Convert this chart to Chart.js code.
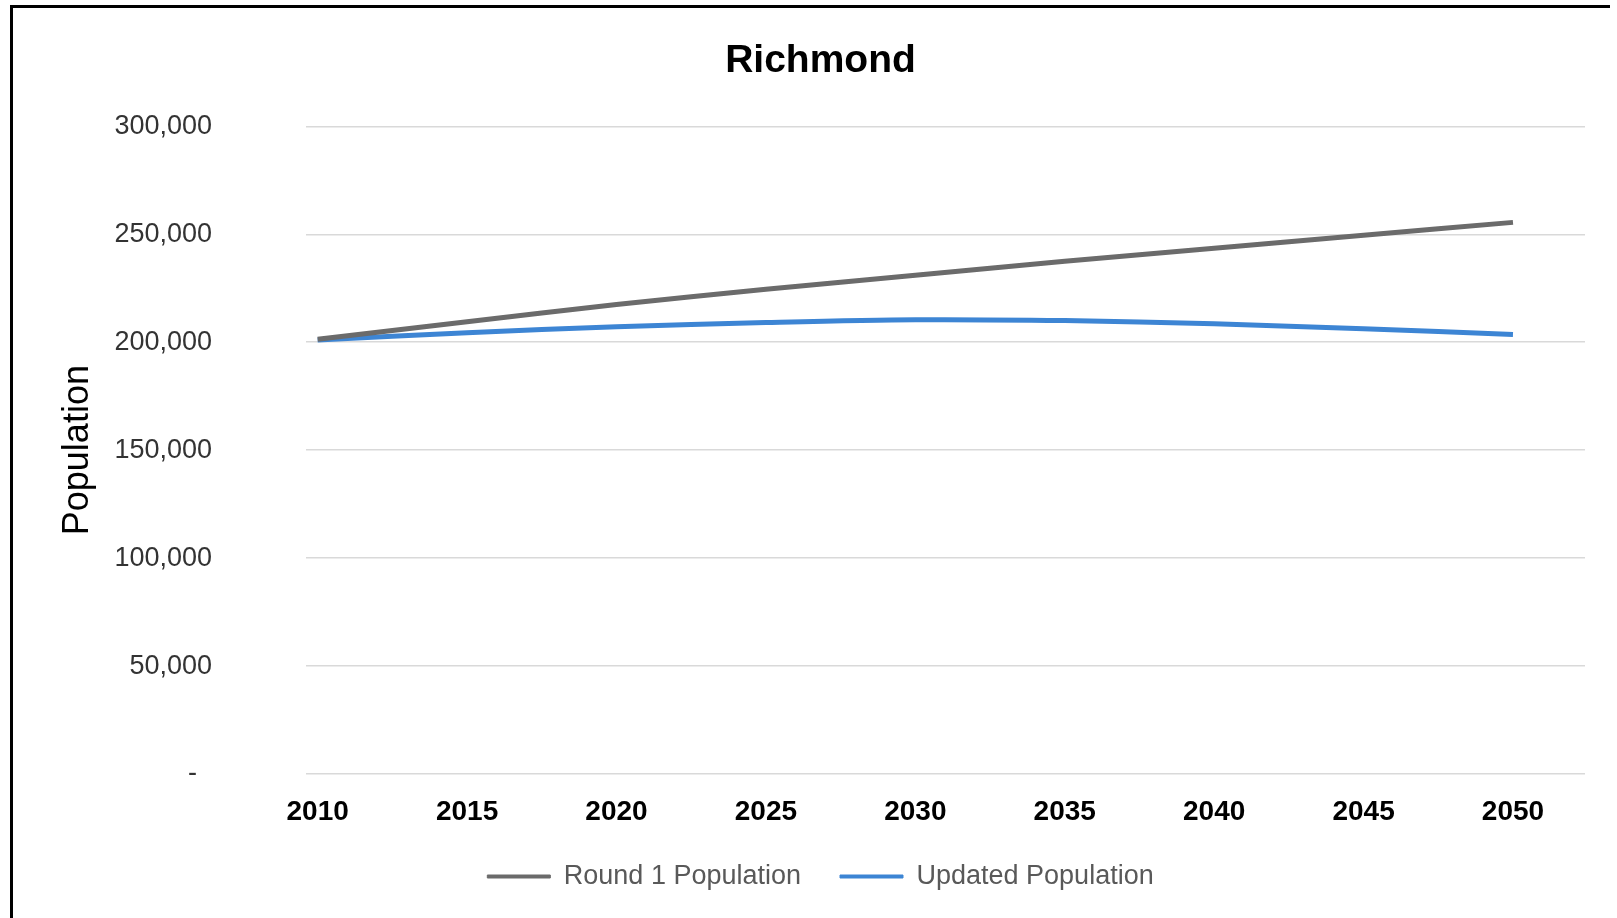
<!DOCTYPE html>
<html>
<head>
<meta charset="utf-8">
<script src="https://cdn.jsdelivr.net/npm/chart.js@4/dist/chart.umd.min.js"></script>
<style>
  html, body { margin: 0; padding: 0; background: #ffffff; overflow: hidden; }
  #wrap { position: absolute; left: 0; top: 0; width: 1617px; height: 918px; }
  #frameL { position: absolute; left: 10px; top: 5px; width: 3px; height: 913px; background: #000; }
  #frameT { position: absolute; left: 10px; top: 5px; width: 1600px; height: 3px; background: #000; }
</style>
</head>
<body>
<div id="wrap"><canvas id="c" width="1617" height="900"></canvas></div>
<div id="frameL"></div><div id="frameT"></div>
<script>
// ---- Data ----
const chartTitle = 'Richmond';
const yAxisTitle = 'Population';
const years = [2010, 2015, 2020, 2025, 2030, 2035, 2040, 2045, 2050];
const round1Population = [201400, 209500, 217500, 224500, 231000, 237500, 243500, 249500, 255500];
const updatedPopulation = [201000, 204400, 207200, 209100, 210400, 210000, 208500, 206200, 203600];
const seriesNames = ['Round 1 Population', 'Updated Population'];
const yTicks = [0, 50000, 100000, 150000, 200000, 250000, 300000];

const toPoints = (vals) => years.map((yr, i) => ({ x: yr, y: vals[i] }));

new Chart(document.getElementById('c'), {
  type: 'line',
  data: {
    datasets: [
      {
        label: seriesNames[0],
        data: toPoints(round1Population),
        borderColor: '#6b6b6b',
        backgroundColor: '#6b6b6b',
        borderWidth: 5,
        pointRadius: 0,
        tension: 0.3
      },
      {
        label: seriesNames[1],
        data: toPoints(updatedPopulation),
        borderColor: '#3d85d4',
        backgroundColor: '#3d85d4',
        borderWidth: 5,
        pointRadius: 0,
        tension: 0.3
      }
    ]
  },
  options: {
    responsive: false,
    animation: false,
    layout: { padding: { left: 56, right: 32, top: 10, bottom: 0 } },
    scales: {
      x: {
        type: 'linear',
        min: 2009.61,
        max: 2052.41,
        afterBuildTicks(axis) { axis.ticks = years.map(v => ({ value: v })); },
        afterFit(scale) { scale.height = 50; },
        grid: { display: false, drawTicks: false },
        border: { display: false },
        ticks: {
          padding: 21.4,
          color: '#000000',
          font: { family: 'Liberation Sans', size: 28, weight: 'bold' },
          callback: (v) => String(v),
          maxRotation: 0,
          autoSkip: false
        }
      },
      y: {
        min: 0,
        max: 300000,
        afterBuildTicks(axis) { axis.ticks = yTicks.map(v => ({ value: v })); },
        afterFit(scale) { scale.width = 250; },
        grid: { color: '#d9d9d9', lineWidth: 1.5, drawTicks: false },
        border: { display: false },
        ticks: {
          padding: 94,
          color: '#333333',
          font: { family: 'Liberation Sans', size: 27 },
          callback: (v) => v === 0 ? '-  ' : v.toLocaleString('en-US')
        },
        title: {
          display: true,
          text: yAxisTitle,
          color: '#000000',
          padding: 0,
          font: { family: 'Liberation Sans', size: 36 }
        }
      }
    },
    plugins: {
      title: {
        display: true,
        text: chartTitle,
        color: '#000000',
        font: { family: 'Liberation Sans', size: 39, weight: 'bold' },
        padding: { top: 27.5, bottom: 42 }
      },
      legend: {
        position: 'bottom',
        labels: {
          boxWidth: 63,
          boxHeight: 3,
          padding: 39,
          color: '#595959',
          font: { family: 'Liberation Sans', size: 27 },
          generateLabels(chart) {
            const items = Chart.defaults.plugins.legend.labels.generateLabels(chart);
            items.forEach(it => { it.lineWidth = 1; });
            return items;
          }
        }
      },
      tooltip: { enabled: false }
    }
  }
});
</script>
</body>
</html>
